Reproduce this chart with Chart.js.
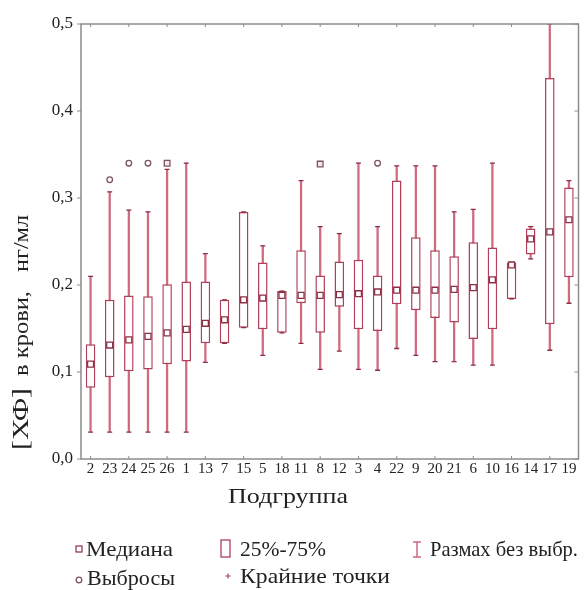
<!DOCTYPE html>
<html><head><meta charset="utf-8">
<script src="https://cdn.jsdelivr.net/npm/chart.js@4.4.1/dist/chart.umd.min.js"></script>
<style>html,body{margin:0;padding:0;background:#fff}#wrap{width:584px;height:590px;position:relative}</style>
</head><body><div id="wrap"><canvas id="c"></canvas></div>
<script>
// ---- data ----
const categories = ['2','23','24','25','26','1','13','7','15','5','18','11','8','12','3','4','22','9','20','21','6','10','16','14','17','19'];
const whiskerLow  = [0.031,0.031,0.031,0.031,0.031,0.031,0.111,0.133,0.151,0.119,0.145,0.133,0.103,0.124,0.103,0.102,0.127,0.119,0.112,0.112,0.108,0.108,0.184,0.230,0.125,0.179];
const q1          = [0.082,0.094,0.101,0.103,0.109,0.112,0.133,0.133,0.151,0.149,0.145,0.179,0.145,0.175,0.149,0.147,0.178,0.171,0.162,0.157,0.138,0.149,0.184,0.235,0.155,0.209];
const median      = [0.109,0.131,0.137,0.141,0.145,0.149,0.156,0.160,0.183,0.185,0.188,0.188,0.188,0.189,0.190,0.192,0.194,0.194,0.194,0.195,0.197,0.206,0.223,0.253,0.261,0.275];
const q3          = [0.132,0.183,0.188,0.187,0.201,0.204,0.204,0.183,0.284,0.226,0.193,0.240,0.211,0.227,0.229,0.211,0.320,0.255,0.240,0.233,0.249,0.243,0.226,0.265,0.438,0.312];
const whiskerHigh = [0.210,0.307,0.286,0.284,0.333,0.340,0.236,0.183,0.284,0.245,0.193,0.320,0.267,0.259,0.340,0.267,0.337,0.337,0.337,0.284,0.287,0.340,0.226,0.267,0.500,0.320];
const outliers    = [null,0.321,0.340,0.340,null,null,null,null,null,null,null,null,null,null,null,0.340,null,null,null,null,null,null,null,null,null,null];
const extremes    = [null,null,null,null,0.340,null,null,null,null,null,null,null,0.339,null,null,null,null,null,null,null,null,null,null,null,null,null];
const yTicks      = [0,0.1,0.2,0.3,0.4,0.5];
const yTickLabels = ['0,0','0,1','0,2','0,3','0,4','0,5'];
const xTitle = 'Подгруппа';
const yTitleParts = ['[ХФ]','в крови,','нг/мл'];
const legendLabels = ['Медиана','25%-75%','Размах без выбр.','Выбросы','Крайние точки'];

// ---- styles ----
const BOX = '#b0405a', WHISK = '#cf6a80', MED = '#8a3045', OUT = '#7d5560', FRAME = '#8c8c8c', TXT = '#222';
const SERIF = '"Liberation Serif","DejaVu Serif",serif';

function stretchText(ctx, text, x, y, font, width, align) {
  ctx.save();
  ctx.font = font;
  const w = ctx.measureText(text).width;
  const s = width ? width / w : 1;
  ctx.translate(x, y);
  ctx.scale(s, 1);
  ctx.textAlign = align || 'left';
  ctx.textBaseline = 'middle';
  ctx.fillText(text, 0, 0);
  ctx.restore();
}

const decor = {
  id: 'decor',
  afterDraw(chart) {
    const ctx = chart.ctx, a = chart.chartArea, xs = chart.scales.x, ys = chart.scales.y;
    ctx.save();
    // frame
    ctx.strokeStyle = FRAME; ctx.lineWidth = 1.5;
    ctx.strokeRect(a.left, a.top, a.right - a.left, a.bottom - a.top);
    ctx.lineWidth = 1;
    ctx.beginPath();
    yTicks.forEach(v => {
      const py = ys.getPixelForValue(v);
      ctx.moveTo(a.left - 4, py); ctx.lineTo(a.left, py);
      ctx.moveTo(a.right, py); ctx.lineTo(a.right - 4, py);
    });
    categories.forEach((c, i) => {
      if (i % 2) return;
      const px = xs.getPixelForValue(i);
      ctx.moveTo(px, a.top); ctx.lineTo(px, a.top + 3);
      ctx.moveTo(px, a.bottom); ctx.lineTo(px, a.bottom - 3);
    });
    ctx.stroke();

    ctx.fillStyle = TXT;
    // x title
    stretchText(ctx, xTitle, 288, 497, '21px ' + SERIF, 120, 'center');
    // y title (rotated)
    ctx.save();
    ctx.translate(22, 0);
    ctx.rotate(-Math.PI / 2);
    stretchText(ctx, yTitleParts[0], -450, 0, '24px ' + SERIF, 62, 'left');
    stretchText(ctx, yTitleParts[1], -376, 1, '20px ' + SERIF, 85, 'left');
    stretchText(ctx, yTitleParts[2], -272, 1, '20px ' + SERIF, 57, 'left');
    ctx.restore();

    // legend
    const f = '21px ' + SERIF;
    stretchText(ctx, legendLabels[0], 86, 550, f, 87, 'left');
    stretchText(ctx, legendLabels[1], 240, 550, f, 86, 'left');
    stretchText(ctx, legendLabels[2], 430, 550, f, 148, 'left');
    stretchText(ctx, legendLabels[3], 87, 579, f, 88, 'left');
    stretchText(ctx, legendLabels[4], 240, 577, f, 150, 'left');
    // icons
    ctx.lineWidth = 1.2;
    ctx.strokeStyle = MED; ctx.strokeRect(76, 546, 6, 6);
    ctx.strokeStyle = BOX; ctx.lineWidth = 1.3; ctx.strokeRect(221, 540, 9, 17);
    ctx.strokeStyle = WHISK; ctx.lineWidth = 1.5;
    ctx.beginPath();
    ctx.moveTo(417, 542); ctx.lineTo(417, 557);
    ctx.moveTo(413, 542); ctx.lineTo(421, 542);
    ctx.moveTo(413, 557); ctx.lineTo(421, 557);
    ctx.stroke();
    ctx.strokeStyle = OUT; ctx.lineWidth = 1.3;
    ctx.beginPath(); ctx.arc(79, 580, 2.8, 0, Math.PI * 2); ctx.stroke();
    ctx.strokeStyle = BOX; ctx.lineWidth = 1.2;
    ctx.beginPath();
    ctx.moveTo(225.5, 576); ctx.lineTo(230.5, 576);
    ctx.moveTo(228, 573.5); ctx.lineTo(228, 578.5);
    ctx.stroke();
    ctx.restore();
  }
};

const pointDs = (label, data, style, r, color, fill, order) => ({
  type: 'line', label, data, showLine: false, order,
  pointStyle: style, pointRadius: r, pointHoverRadius: r,
  pointBorderColor: color, pointBackgroundColor: fill, pointBorderWidth: 1.3,
  borderColor: color, backgroundColor: fill
});

new Chart(document.getElementById('c'), {
  type: 'bar',
  data: {
    labels: categories,
    datasets: [
      { label: 'whisker', data: whiskerLow.map((v, i) => [v, whiskerHigh[i]]), backgroundColor: WHISK,
        barThickness: 1.6, grouped: false, order: 6, borderWidth: 0 },
      { label: 'box', data: q1.map((v, i) => [v, q3[i]]), backgroundColor: '#ffffff', borderColor: BOX,
        borderWidth: 1.5, borderSkipped: false, barPercentage: 0.5, categoryPercentage: 1, grouped: false, order: 5 },
      pointDs('capHigh', whiskerHigh, 'line', 2.5, MED, MED, 4),
      pointDs('capLow', whiskerLow, 'line', 2.5, MED, MED, 4),
      pointDs('median', median, 'rect', 4.2, MED, '#ffffff', 3),
      pointDs('outliers', outliers, 'circle', 2.8, OUT, '#ffffff', 2),
      pointDs('extremes', extremes, 'rect', 4, OUT, '#f4e6e9', 1)
    ]
  },
  options: {
    responsive: true, maintainAspectRatio: false, animation: false,
    layout: { padding: { left: 0, right: 5, top: 24, bottom: 0 } },
    plugins: { legend: { display: false }, tooltip: { enabled: false } },
    scales: {
      x: {
        type: 'category', offset: true,
        grid: { display: false }, border: { display: false },
        ticks: { color: TXT, font: { family: SERIF, size: 15 }, padding: -7, maxRotation: 0, autoSkip: false },
        afterFit: s => { s.height = 131; }
      },
      y: {
        min: 0, max: 0.5,
        grid: { display: false }, border: { display: false },
        afterBuildTicks: s => { s.ticks = yTicks.map(v => ({ value: v })); },
        ticks: { color: TXT, font: { family: SERIF, size: 17 }, padding: 0,
          callback: v => yTickLabels[yTicks.findIndex(t => Math.abs(t - v) < 1e-9)] },
        afterFit: s => { s.width = 81; }
      }
    }
  },
  plugins: [decor]
});
</script>
</body></html>
